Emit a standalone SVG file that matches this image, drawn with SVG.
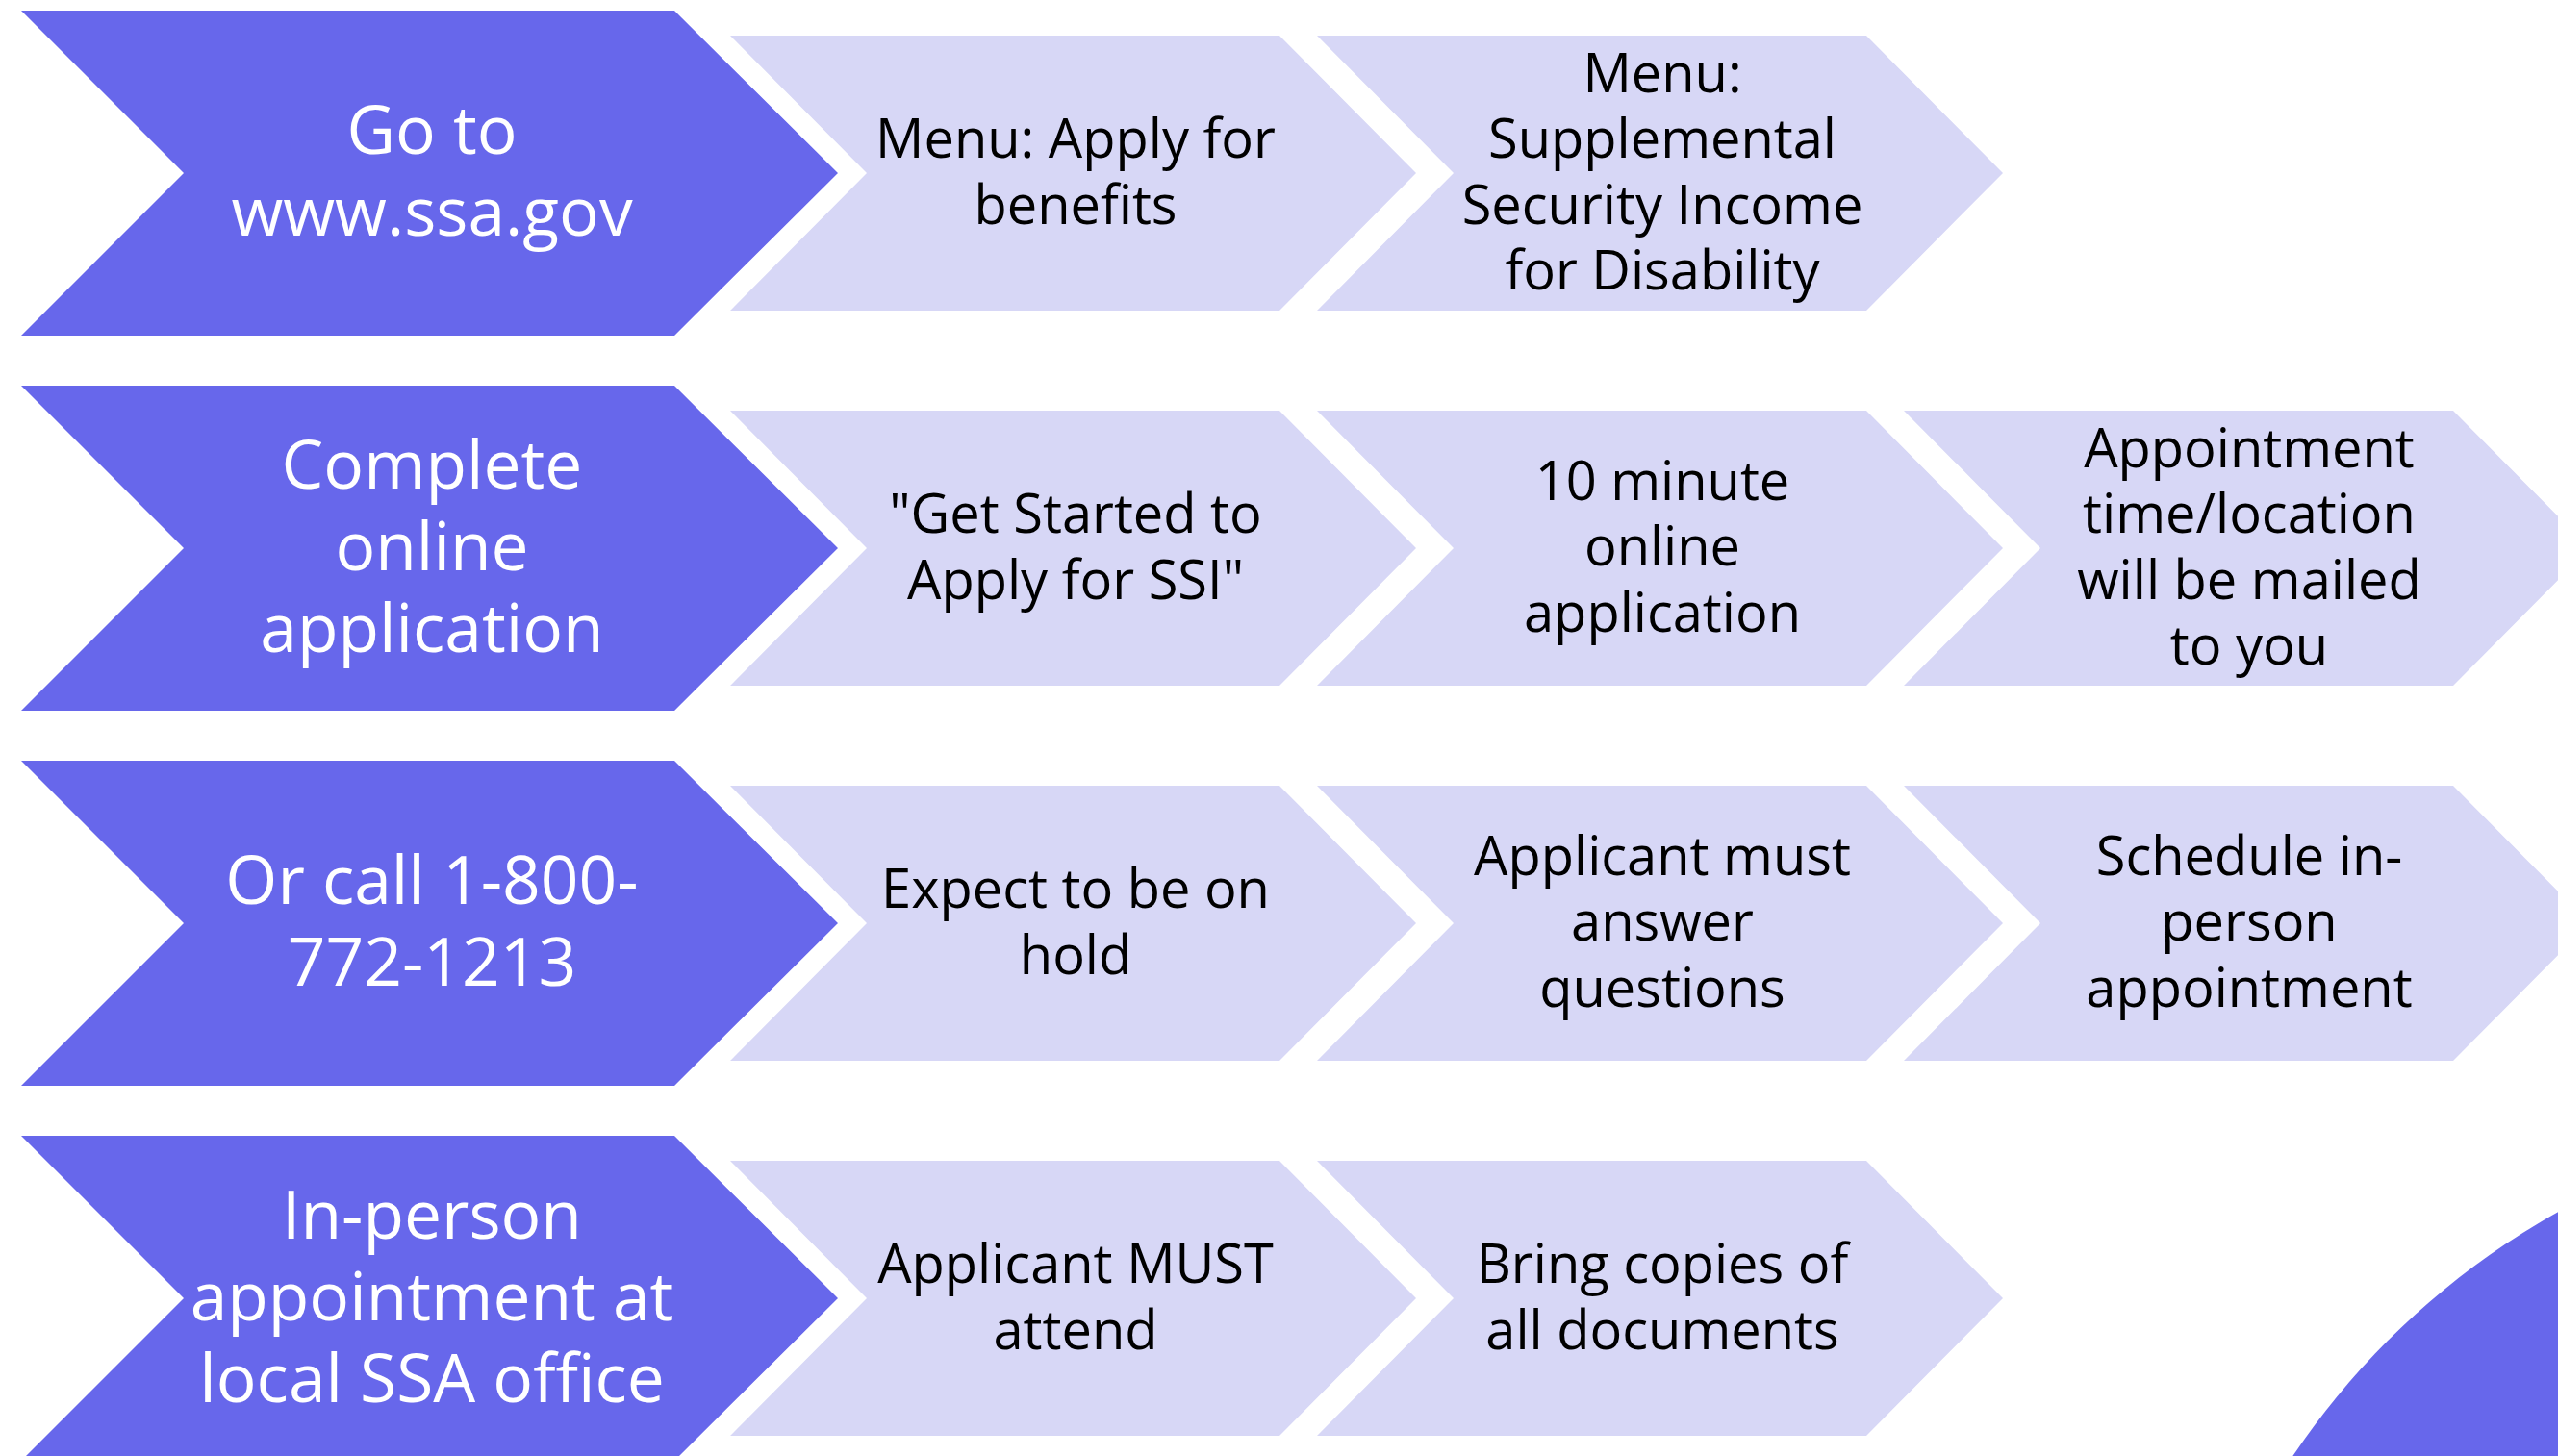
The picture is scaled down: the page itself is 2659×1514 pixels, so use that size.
<svg xmlns="http://www.w3.org/2000/svg" xmlns:xlink="http://www.w3.org/1999/xlink" width="2659" height="1514" viewBox="0 0 2659 1514">
<defs>
<style>
.dk{fill:#6767EB}
.lt{fill:#D7D7F6}
.tw{font-family:"Open Sans","Noto Sans","Liberation Sans",sans-serif;font-size:69.5px;fill:#FFFFFF;text-anchor:middle}
.tb{font-family:"Open Sans","Noto Sans","Liberation Sans",sans-serif;font-size:56px;fill:#000000;text-anchor:middle}
</style>
<polygon id="dchev" points="22,-169 701,-169 871,0 701,169 22,169 191,0"/>
<polygon id="lchev" points="0,-143 571,-143 713,0 571,143 0,143 142,0"/>
</defs>
<rect width="2659" height="1514" fill="#FFFFFF"/>
<g id="decor">
<circle cx="3052" cy="1964" r="806" class="dk"/>
</g>
<g id="connectors"></g>

<g id="r1-main"><use xlink:href="#dchev" class="dk" y="180"/>
<text class="tw"><tspan x="449" y="160">Go to</tspan><tspan x="449" y="245">www.ssa.gov</tspan></text></g>
<g id="r1-s1"><use xlink:href="#lchev" class="lt" x="759" y="180"/>
<text class="tb"><tspan x="1118" y="164">Menu: Apply for</tspan><tspan x="1118" y="232.5">benefits</tspan></text></g>
<g id="r1-s2"><use xlink:href="#lchev" class="lt" x="1369" y="180"/>
<text class="tb"><tspan x="1728" y="95.5">Menu:</tspan><tspan x="1728" y="164">Supplemental</tspan><tspan x="1728" y="232.5">Security Income</tspan><tspan x="1728" y="301">for Disability</tspan></text></g>

<g id="r2-main"><use xlink:href="#dchev" class="dk" y="570"/>
<text class="tw"><tspan x="449" y="507.5">Complete</tspan><tspan x="449" y="592.5">online</tspan><tspan x="449" y="677.5">application</tspan></text></g>
<g id="r2-s1"><use xlink:href="#lchev" class="lt" x="759" y="570"/>
<text class="tb"><tspan x="1118" y="554">"Get Started to</tspan><tspan x="1118" y="622.5">Apply for SSI"</tspan></text></g>
<g id="r2-s2"><use xlink:href="#lchev" class="lt" x="1369" y="570"/>
<text class="tb"><tspan x="1728" y="519.75">10 minute</tspan><tspan x="1728" y="588.25">online</tspan><tspan x="1728" y="656.75">application</tspan></text></g>
<g id="r2-s3"><use xlink:href="#lchev" class="lt" x="1979" y="570"/>
<text class="tb"><tspan x="2338" y="485.5">Appointment</tspan><tspan x="2338" y="554">time/location</tspan><tspan x="2338" y="622.5">will be mailed</tspan><tspan x="2338" y="691">to you</tspan></text></g>

<g id="r3-main"><use xlink:href="#dchev" class="dk" y="960"/>
<text class="tw"><tspan x="449" y="940">Or call 1-800-</tspan><tspan x="449" y="1025">772-1213</tspan></text></g>
<g id="r3-s1"><use xlink:href="#lchev" class="lt" x="759" y="960"/>
<text class="tb"><tspan x="1118" y="944">Expect to be on</tspan><tspan x="1118" y="1012.5">hold</tspan></text></g>
<g id="r3-s2"><use xlink:href="#lchev" class="lt" x="1369" y="960"/>
<text class="tb"><tspan x="1728" y="909.75">Applicant must</tspan><tspan x="1728" y="978.25">answer</tspan><tspan x="1728" y="1046.75">questions</tspan></text></g>
<g id="r3-s3"><use xlink:href="#lchev" class="lt" x="1979" y="960"/>
<text class="tb"><tspan x="2338" y="909.75">Schedule in-</tspan><tspan x="2338" y="978.25">person</tspan><tspan x="2338" y="1046.75">appointment</tspan></text></g>

<g id="r4-main"><use xlink:href="#dchev" class="dk" y="1350"/>
<text class="tw"><tspan x="449" y="1287.5">In-person</tspan><tspan x="449" y="1372.5">appointment at</tspan><tspan x="449" y="1457.5">local SSA office</tspan></text></g>
<g id="r4-s1"><use xlink:href="#lchev" class="lt" x="759" y="1350"/>
<text class="tb"><tspan x="1118" y="1334">Applicant MUST</tspan><tspan x="1118" y="1402.5">attend</tspan></text></g>
<g id="r4-s2"><use xlink:href="#lchev" class="lt" x="1369" y="1350"/>
<text class="tb"><tspan x="1728" y="1334">Bring copies of</tspan><tspan x="1728" y="1402.5">all documents</tspan></text></g>
</svg>
